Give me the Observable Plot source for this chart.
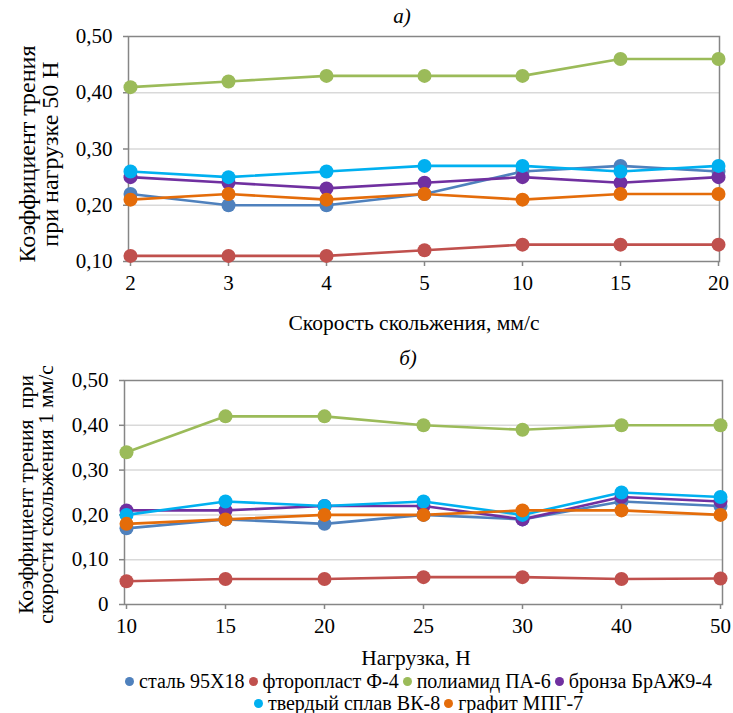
<!DOCTYPE html>
<html>
<head>
<meta charset="utf-8">
<script src="https://cdn.jsdelivr.net/npm/d3@7"></script>
<script src="https://cdn.jsdelivr.net/npm/@observablehq/plot@0.6"></script>
<style>
  html, body { margin: 0; padding: 0; background: #fff; }
  #root { position: relative; width: 733px; height: 713px; font-family: "Liberation Serif", "Times New Roman", serif; color: #000; }
  .abs { position: absolute; }
  .title { font-style: italic; font-size: 21px; width: 100px; text-align: center; line-height: 24px; }
  .xtitle { font-size: 21.5px; width: 500px; text-align: center; line-height: 24px; }
  .legrow { position: absolute; left: 0; width: 733px; text-align: center; font-size: 20px; line-height: 22px; white-space: nowrap; }
  .legitem { display: inline-block; margin: 0 2px; }
  .sw { display: inline-block; width: 9px; height: 9px; border-radius: 50%; margin-right: 5px; vertical-align: 2px; }
</style>
</head>
<body>
<div id="root"></div>
<script>
// ---------- data ----------
const materials = ["сталь 95Х18", "фторопласт Ф-4", "полиамид ПА-6", "бронза БрАЖ9-4", "твердый сплав ВК-8", "графит МПГ-7"];
const colors = ["#4f81bd", "#c0504d", "#9bbb59", "#7030a0", "#00b0f0", "#e46c0a"];

// chart а): friction at load 50 N vs sliding speed
const speeds = ["2", "3", "4", "5", "10", "15", "20"];
const steelA    = [0.22, 0.20, 0.20, 0.22, 0.26, 0.27, 0.26];
const ptfeA     = [0.11, 0.11, 0.11, 0.12, 0.13, 0.13, 0.13];
const pa6A      = [0.41, 0.42, 0.43, 0.43, 0.43, 0.46, 0.46];
const bronzeA   = [0.25, 0.24, 0.23, 0.24, 0.25, 0.24, 0.25];
const vk8A      = [0.26, 0.25, 0.26, 0.27, 0.27, 0.26, 0.27];
const graphiteA = [0.21, 0.22, 0.21, 0.22, 0.21, 0.22, 0.22];

// chart б): friction at sliding speed 1 mm/s vs load
const loads = ["10", "15", "20", "25", "30", "40", "50"];
const steelB    = [0.17, 0.19, 0.18, 0.20, 0.19, 0.23, 0.22];
const ptfeB     = [0.052, 0.057, 0.057, 0.061, 0.061, 0.057, 0.058];
const pa6B      = [0.34, 0.42, 0.42, 0.40, 0.39, 0.40, 0.40];
const bronzeB   = [0.21, 0.21, 0.22, 0.22, 0.19, 0.24, 0.23];
const vk8B      = [0.20, 0.23, 0.22, 0.23, 0.20, 0.25, 0.24];
const graphiteB = [0.18, 0.19, 0.20, 0.20, 0.21, 0.21, 0.20];

const ticksA = [0.1, 0.2, 0.3, 0.4, 0.5];
const ticksB = [0, 0.1, 0.2, 0.3, 0.4, 0.5];

const titleA = "а)";
const titleB = "б)";
const yLabelA = "Коэффициент трения\nпри нагрузке 50 Н";
const yLabelB = "Коэффициент трения  при\nскорости скольжения 1 мм/с";
const xLabelA = "Скорость скольжения, мм/с";
const xLabelB = "Нагрузка, Н";

// ---------- build tables ----------
function table(xs, seriesList) {
  const rows = [];
  seriesList.forEach((vals, i) => {
    vals.forEach((v, j) => rows.push({ x: xs[j], y: v, m: materials[i] }));
  });
  return rows;
}
const dataA = table(speeds, [steelA, ptfeA, pa6A, bronzeA, vk8A, graphiteA]);
const dataB = table(loads, [steelB, ptfeB, pa6B, bronzeB, vk8B, graphiteB]);

const fmt = d => d === 0 ? "0" : d.toFixed(2).replace(".", ",");
const axisGrey = "#868686";

function makeChart({ data, xs, ticks, yDomain, height, mt, mb, ml, mr, ylabel, yfs, ylh, ydx, ydy }) {
  return Plot.plot({
    width: 733,
    height,
    marginTop: mt,
    marginBottom: mb,
    marginLeft: ml,
    marginRight: mr,
    style: { fontFamily: "'Liberation Serif', 'Times New Roman', serif", fontSize: "21px", background: "transparent", overflow: "visible" },
    x: { type: "point", domain: xs, padding: 0, label: null },
    y: { domain: yDomain, label: null },
    color: { domain: materials, range: colors },
    marks: [
      Plot.gridY(ticks.filter(t => t !== yDomain[0] && t !== yDomain[1]), { stroke: "#d9d9d9", strokeOpacity: 1, strokeWidth: 1.5 }),
      Plot.frame({ stroke: axisGrey, strokeWidth: 1.5 }),
      Plot.axisY(ticks, { tickSize: 5, tickPadding: 11, tickFormat: fmt, stroke: axisGrey, strokeWidth: 1.5, fill: "#000", fontSize: 21, label: null }),
      Plot.axisX(xs, { tickSize: 5, tickPadding: 9, stroke: axisGrey, strokeWidth: 1.5, fill: "#000", fontSize: 21, label: null }),
      Plot.line(data, { x: "x", y: "y", z: "m", stroke: "m", strokeWidth: 2.6 }),
      Plot.dot(data, { x: "x", y: "y", fill: "m", r: 7, stroke: null }),
      Plot.text([ylabel], { frameAnchor: "left", rotate: -90, dx: ydx, dy: ydy, fontSize: yfs, lineHeight: ylh, textAnchor: "middle", lineAnchor: "middle", fill: "#000" })
    ]
  });
}

const root = document.getElementById("root");

function addAbs(el, left, top) {
  el.classList.add("abs");
  el.style.left = left + "px";
  el.style.top = top + "px";
  root.appendChild(el);
  return el;
}
function div(cls, text) {
  const d = document.createElement("div");
  d.className = cls;
  d.textContent = text;
  return d;
}

// chart а)
const chartA = makeChart({
  data: dataA, xs: speeds, ticks: ticksA, yDomain: [0.1, 0.5], height: 340,
  mt: 36, mb: 79, ml: 128, mr: 14,
  ylabel: yLabelA, yfs: 24, ylh: 0.96, ydx: -89, ydy: 5
});
addAbs(chartA, 0, 0);

// chart б)
const chartB = makeChart({
  data: dataB, xs: loads, ticks: ticksB, yDomain: [0, 0.5], height: 300,
  mt: 40, mb: 36, ml: 124, mr: 11,
  ylabel: yLabelB, yfs: 21.5, ylh: 0.93, ydx: -88, ydy: 2
});
addAbs(chartB, 0, 340);

// titles
addAbs(div("title", titleA), 352, 4);
addAbs(div("title", titleB), 358, 346);
addAbs(div("xtitle", xLabelA), 164, 311);
addAbs(div("xtitle", xLabelB), 166, 646);

// legend
const rows = [[0, 1, 2, 3], [4, 5]];
const rowTops = [670, 692];
rows.forEach((idxs, r) => {
  const row = document.createElement("div");
  row.className = "legrow";
  row.style.top = rowTops[r] + "px";
  idxs.forEach(i => {
    const it = document.createElement("span");
    it.className = "legitem";
    const sw = document.createElement("span");
    sw.className = "sw";
    sw.style.background = colors[i];
    it.appendChild(sw);
    it.appendChild(document.createTextNode(materials[i]));
    row.appendChild(it);
  });
  row.style.left = "52px";
  root.appendChild(row);
});
</script>
</body>
</html>
